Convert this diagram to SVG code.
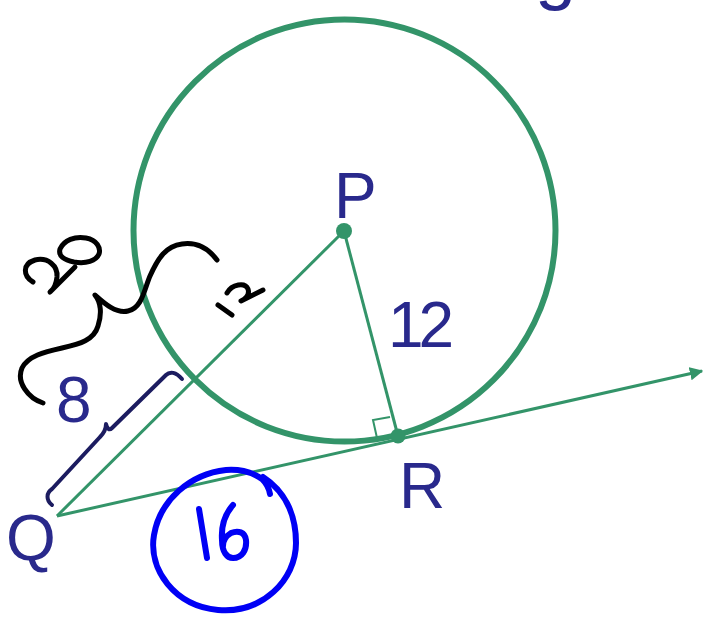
<svg xmlns="http://www.w3.org/2000/svg" width="704" height="617" viewBox="0 0 704 617">
<style>
.g{stroke:#339469;fill:none}
.lbl{font-family:"Liberation Sans","DejaVu Sans",sans-serif;font-size:64px;fill:#29298c}
.hw{fill:none;stroke:#000;stroke-width:5;stroke-linecap:round;stroke-linejoin:round}
.bl{fill:none;stroke:#0000f5;stroke-width:6;stroke-linecap:round;stroke-linejoin:round}
.nv{fill:none;stroke:#1c1c60;stroke-width:4;stroke-linecap:round;stroke-linejoin:round}
</style>
<defs>
<marker id="arr" viewBox="0 0 10 10" refX="9" refY="5" markerWidth="4.5" markerHeight="4.5" orient="auto" markerUnits="strokeWidth">
<path d="M0,0 L10,5 L0,10 z" fill="#339469"/>
</marker>
</defs>
<rect width="704" height="617" fill="#fff"/>
<text x="535" y="-4" class="lbl" style="font-size:74px">g</text>
<g id="circle"><circle cx="344.5" cy="230.5" r="211" class="g" stroke-width="6"/></g>
<g id="connectors">
<line x1="57" y1="516" x2="344" y2="231" class="g" stroke-width="3"/>
<line x1="344" y1="231" x2="398" y2="436" class="g" stroke-width="3"/>
<line x1="57" y1="516" x2="702" y2="371" class="g" stroke-width="3" marker-end="url(#arr)"/>
<polyline points="390,417 373,420 377,438" class="g" stroke-width="2"/>
</g>
<g id="P"><circle cx="344" cy="231" r="8" fill="#339469"/><text x="334" y="218" class="lbl">P</text></g>
<g id="R"><circle cx="398" cy="436" r="7.5" fill="#339469"/><text x="399" y="508" class="lbl">R</text></g>
<g id="Q"><text x="6" y="560" class="lbl">Q</text></g>
<text x="388" y="347" class="lbl" textLength="66">12</text>
<text x="56" y="422" class="lbl" textLength="38">8</text>
<path class="nv" d="M52,505 C46,500 46,493 52,489 L100,437 C104,433 106,428 106,424 C107,428 109,431 112,428 L166,375 C170,371 176,372 182,379"/>
<path class="hw" d="M43,403 C28,398 16,382 22,368 C28,356 44,352 62,348 C80,344 94,340 98,326 C102,314 101,302 95,295 C104,303 116,314 128,311 C142,308 144,290 150,276 C158,258 166,246 182,244 C196,242 208,248 217,260"/>
<path class="hw" d="M33,282 C23,276 22,264 35,260 C48,257 58,266 57,277 C56,285 53,290 50,292 L75,267"/>
<path class="hw" d="M60,249 C64,240 75,236 86,238 C97,240 101,248 99,254 C96,261 86,264 74,262 C64,260 58,256 60,249 Z"/>
<path class="hw" d="M218,305 L232,315 M227,293 C232,284 245,282 248,289 C250,295 245,299 241,301 L263,290"/>
<path class="bl" d="M270,494 C269,488 266,483 262,479 C252,472 240,469 226,470 C190,474 160,500 154,535 C148,570 175,606 218,610 C262,614 296,580 296,543 C296,512 283,490 263,477"/>
<path class="bl" d="M199,509 L207,558 M233,505 C225,514 221,526 222,540 C222,552 227,558 233,558 C242,558 247,550 246,540 C245,532 238,530 231,533 C226,536 223,541 223,546"/>
</svg>
